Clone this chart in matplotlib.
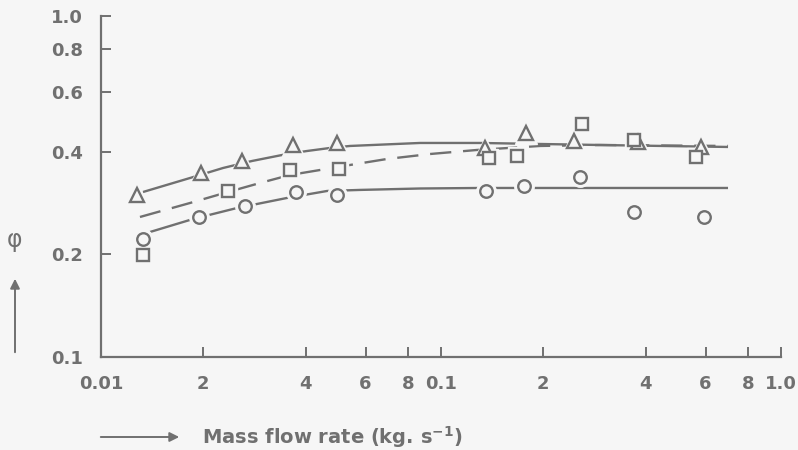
import matplotlib
matplotlib.use("Agg")
import matplotlib.pyplot as plt
from matplotlib.ticker import FixedLocator, FixedFormatter, NullLocator

# ---- data ----
tri_x = [0.01276, 0.01968, 0.02598, 0.0367, 0.0494, 0.1347, 0.1778, 0.2462, 0.3797, 0.5818]
tri_y = [0.2986, 0.3464, 0.3757, 0.4185, 0.4243, 0.4102, 0.4539, 0.4300, 0.4271, 0.413]

sq_x = [0.01329, 0.02363, 0.03596, 0.0501, 0.1384, 0.1673, 0.2598, 0.3695, 0.5623]
sq_y = [0.1991, 0.3068, 0.3535, 0.3559, 0.3834, 0.3886, 0.4823, 0.4329, 0.386]

ci_x = [0.01329, 0.01942, 0.02651, 0.03746, 0.0494, 0.1356, 0.1754, 0.2563, 0.3695, 0.5937]
ci_y = [0.2218, 0.2574, 0.2772, 0.3047, 0.2986, 0.3068, 0.3174, 0.3372, 0.2662, 0.2574]

tri_curve_x = [0.01329, 0.01827, 0.02285, 0.02781, 0.03525, 0.04036, 0.04716, 0.0540,
               0.08676, 0.1302, 0.2935, 0.6985]
tri_curve_y = [0.3047, 0.3349, 0.3583, 0.3757, 0.3938, 0.4019, 0.4102, 0.4158,
               0.4243, 0.4243, 0.4185, 0.4130]

sq_curve_x = [0.01302, 0.01827, 0.02363, 0.02935, 0.03596, 0.04407, 0.0540, 0.06938,
              0.09283, 0.1276, 0.1956, 0.2935, 0.6985]
sq_curve_y = [0.2574, 0.2829, 0.3047, 0.3238, 0.3418, 0.3535, 0.3657, 0.3808,
              0.3938, 0.4047, 0.4158, 0.4185, 0.4158]

ci_curve_x = [0.01394, 0.01865, 0.02512, 0.03525, 0.04622, 0.05778, 0.08676, 0.1302, 0.6985]
ci_curve_y = [0.2326, 0.2539, 0.2735, 0.2927, 0.3068, 0.3090, 0.3120, 0.3131, 0.3131]

x_ticks = [0.01, 0.02, 0.04, 0.06, 0.08, 0.1, 0.2, 0.4, 0.6, 0.8, 1.0]
x_labels = ['0.01', '2', '4', '6', '8', '0.1', '2', '4', '6', '8', '1.0']
y_ticks = [0.1, 0.2, 0.4, 0.6, 0.8, 1.0]
y_labels = ['0.1', '0.2', '0.4', '0.6', '0.8', '1.0']

# ---- style ----
BG = '#f6f6f6'
INK = '#707070'
W, H = 798, 450
plt.rcParams['font.family'] = ['DejaVu Sans']
fig = plt.figure(figsize=(W / 100, H / 100), dpi=100, facecolor=BG)
ax = fig.add_axes([101 / W, 1 - 357 / H, (781 - 101) / W, (357 - 16) / H], facecolor=BG)
ax.set_xscale('log')
ax.set_yscale('log')
ax.set_xlim(0.01, 1.0)
ax.set_ylim(0.1, 1.0)

lw = 1.7
ax.plot(tri_curve_x, tri_curve_y, color=INK, lw=lw, zorder=2, solid_capstyle='butt',
        solid_joinstyle='round')
ax.plot(sq_curve_x, sq_curve_y, color=INK, lw=lw, dashes=(9, 5), zorder=2,
        dash_capstyle='butt', dash_joinstyle='round')
ax.plot(ci_curve_x, ci_curve_y, color=INK, lw=lw, zorder=2, solid_capstyle='butt',
        solid_joinstyle='round')

def pts(x, y, marker, ms):
    ax.plot(x, y, linestyle='none', marker=marker, ms=ms + 5, mfc=BG, mec=BG, zorder=3)
    ax.plot(x, y, linestyle='none', marker=marker, ms=ms, mfc=BG, mec=INK, mew=1.7, zorder=4)

pts(tri_x, tri_y, '^', 10.5)
pts(sq_x, sq_y, 's', 8)
pts(ci_x, ci_y, 'o', 9)

for s in ['top', 'right']:
    ax.spines[s].set_visible(False)
for s in ['left', 'bottom']:
    ax.spines[s].set_color(INK)
    ax.spines[s].set_linewidth(1.6)

ax.xaxis.set_major_locator(FixedLocator(x_ticks))
ax.xaxis.set_major_formatter(FixedFormatter(x_labels))
ax.yaxis.set_major_locator(FixedLocator(y_ticks))
ax.yaxis.set_major_formatter(FixedFormatter(y_labels))
ax.xaxis.set_minor_locator(NullLocator())
ax.yaxis.set_minor_locator(NullLocator())
ax.tick_params(axis='both', direction='in', length=7, width=1.4, color=INK,
               labelcolor=INK, labelsize=13)
for lab in ax.get_xticklabels() + ax.get_yticklabels():
    lab.set_fontweight('bold')
ax.tick_params(axis='x', pad=13)
ax.tick_params(axis='y', pad=13)

# axis labels with arrows
fig.text(15 / W, 1 - 240 / H, 'φ', color=INK, fontsize=17, ha='center', va='center')
fig.add_artist(matplotlib.patches.FancyArrowPatch(
    (15 / W, 1 - 355 / H), (15 / W, 1 - 276 / H), transform=fig.transFigure,
    arrowstyle='-|>', mutation_scale=14, color=INK, lw=1.4))
fig.text(202 / W, 1 - 437 / H, r'Mass flow rate (kg. s$^{\mathbf{-1}}$)', color=INK,
         fontsize=14, fontweight='bold', ha='left', va='center')
fig.add_artist(matplotlib.patches.FancyArrowPatch(
    (98 / W, 1 - 437 / H), (182 / W, 1 - 437 / H), transform=fig.transFigure,
    arrowstyle='-|>', mutation_scale=14, color=INK, lw=1.4))

fig.savefig('out.png', dpi=100, facecolor=BG)
